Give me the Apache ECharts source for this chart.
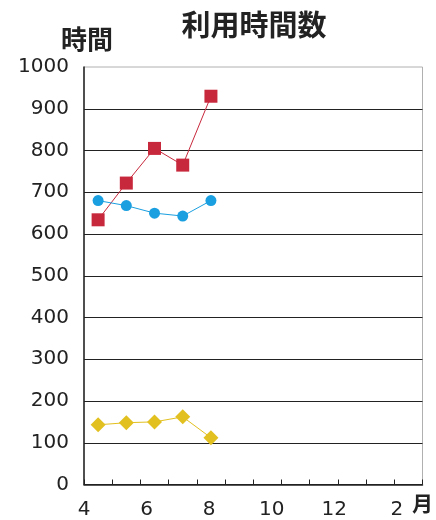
<!DOCTYPE html>
<html><head><meta charset="utf-8">
<script src="https://cdn.jsdelivr.net/npm/echarts@6/dist/echarts.min.js"></script>
<style>html,body{margin:0;padding:0;background:#fff}#c{width:436px;height:520px}</style>
</head><body><div id="c"></div>
<script>
var months = ['4','5','6','7','8','9','10','11','12','1','2','3'];
var monthTickLabels = ['4','6','8','10','12','2'];
var redSeries = [634, 722, 805, 765, 930];
var blueSeries = [680, 668, 650, 643, 680];
var yellowSeries = [143, 148, 150, 162, 112];
var yTicks = [0,100,200,300,400,500,600,700,800,900,1000];

var chart = echarts.init(document.getElementById('c'), null, {renderer:'canvas'});
var numFont = 'DejaVu Sans';
var cjk = '"Noto Sans CJK JP"';
chart.setOption({
  backgroundColor:'#fff',
  animation:false,
  title:{text:'利用時間数', left:249, top:5, textAlign:'center',
    textStyle:{fontFamily:cjk, fontSize:29, fontWeight:'bold', color:'#222'}},
  grid:{left:84, right:12.5, top:67, bottom:35.5, show:true, borderColor:'#b0b0b0', borderWidth:1, backgroundColor:'transparent'},
  xAxis:[{
    type:'category', data:months, boundaryGap:true,
    axisLine:{lineStyle:{color:'#222', width:1.5}},
    axisTick:{show:true, inside:true, length:5, interval:0, lineStyle:{color:'#222'}},
    axisLabel:{show:false}, splitLine:{show:false}
  },{
    type:'value', position:'bottom', min:0, max:5.41, interval:1,
    axisLine:{show:false}, axisTick:{show:false}, splitLine:{show:false},
    axisLabel:{margin:15, fontFamily:numFont, fontSize:20, color:'#222',
      formatter:function(v){ var i=Math.round(v); return Math.abs(v-i)<1e-6 && monthTickLabels[i]!==undefined ? monthTickLabels[i] : ''; }},
    name:'月', nameLocation:'end', nameGap:0,
    nameTextStyle:{fontFamily:cjk, fontSize:21, fontWeight:'bold', color:'#222', align:'center', verticalAlign:'top', padding:[8,0,0,0]}
  }],
  yAxis:{
    type:'value', min:0, max:1000, interval:100,
    axisLine:{show:true, lineStyle:{color:'#222', width:1.5}},
    axisTick:{show:false},
    axisLabel:{margin:15, fontFamily:numFont, fontSize:20, color:'#222',
      formatter:function(v){ return yTicks.indexOf(v)>=0 ? String(v) : ''; }},
    splitLine:{show:true, showMaxLine:false, lineStyle:{color:'#222', width:1.2}},
    name:'時間', nameLocation:'end', nameGap:15,
    nameTextStyle:{fontFamily:cjk, fontSize:26, fontWeight:'bold', color:'#222', align:'center', verticalAlign:'bottom', padding:[0,0,0,6]}
  },
  series:[
    {type:'line', data:redSeries, symbol:'rect', symbolSize:13, lineStyle:{color:'#c8283c', width:1}, itemStyle:{color:'#c8283c'}},
    {type:'line', data:blueSeries, symbol:'circle', symbolSize:11, lineStyle:{color:'#1a9fe0', width:1}, itemStyle:{color:'#1a9fe0'}},
    {type:'line', data:yellowSeries, symbol:'diamond', symbolSize:15, lineStyle:{color:'#e2c020', width:1}, itemStyle:{color:'#e2c020'}}
  ]
});
</script></body></html>
